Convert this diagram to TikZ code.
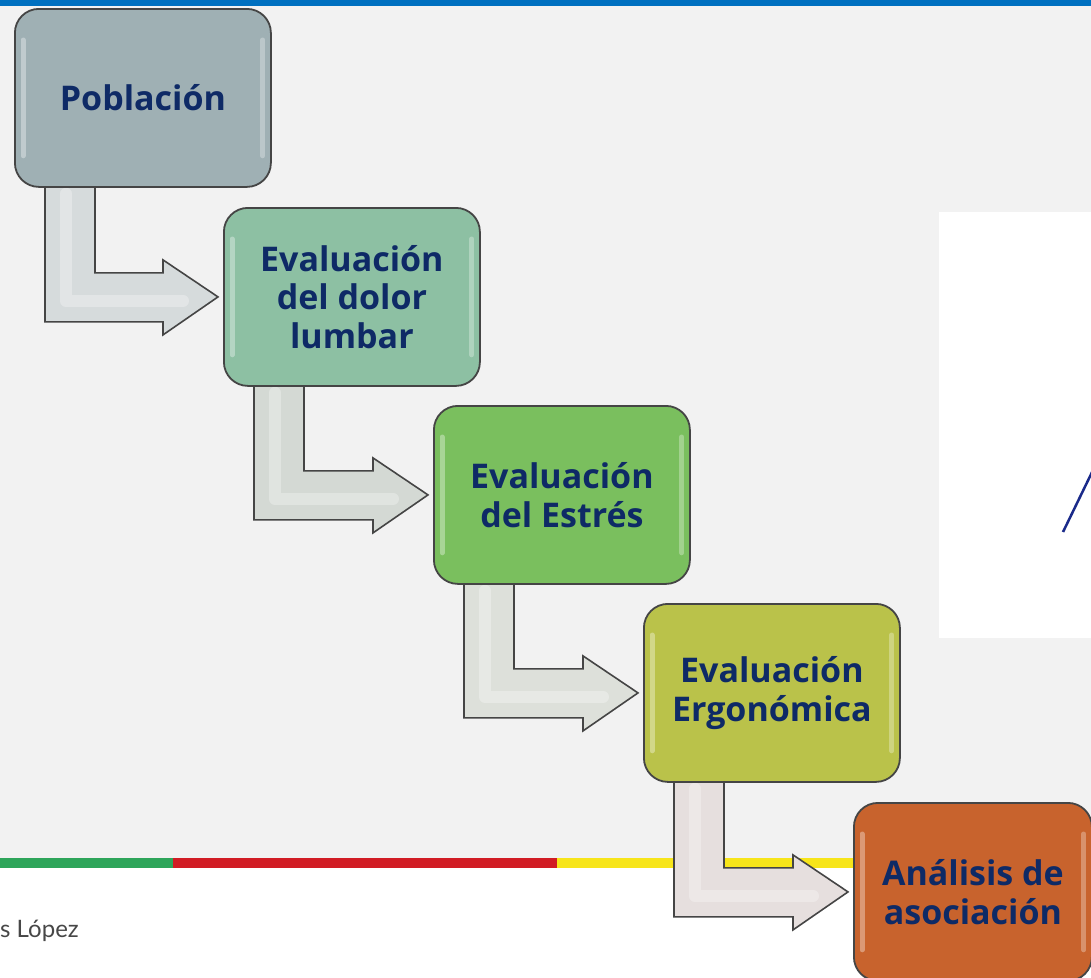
\documentclass[tikz,border=0pt]{standalone}
\usepackage{fontspec}
\setmainfont{Open Sans}
\newfontfamily\footfont{Lato}
\usetikzlibrary{calc}
\pgfdeclarelayer{bg}
\pgfdeclarelayer{mid}
\pgfsetlayers{bg,mid,main}
\definecolor{bgray}{HTML}{F2F2F2}
\definecolor{topblue}{HTML}{0070C0}
\definecolor{sgreen}{HTML}{2EA55A}
\definecolor{sred}{HTML}{D11C24}
\definecolor{syellow}{HTML}{F7E51A}
\definecolor{navy}{HTML}{0E2A66}
\definecolor{cone}{HTML}{9FB0B4}
\definecolor{ctwo}{HTML}{8DC0A3}
\definecolor{cthree}{HTML}{7ABF5E}
\definecolor{cfour}{HTML}{BAC24A}
\definecolor{cfive}{HTML}{C8632D}
\definecolor{edgegray}{HTML}{454545}
\definecolor{lineblue}{HTML}{1A2A8A}
\tikzset{
  stepbox/.style={draw=edgegray, line width=1.8pt, rounded corners=24pt,
    minimum width=256pt, minimum height=178pt, align=center, text=navy,
    font=\bfseries\fontsize{34}{38.5}\selectfont, inner sep=0pt, anchor=north west},
  bentarrow/.style={draw=edgegray, line width=1.6pt, line join=miter},
  gloss/.style={white, opacity=.35, line width=5pt, line cap=round},
  glossarrow/.style={white, opacity=.3, line width=12pt, line cap=round, line join=round}
}
\begin{document}
\begin{tikzpicture}[x=1pt,y=-1pt]
\useasboundingbox (0,0) rectangle (1091,977);
% boxes
\node[stepbox, fill=cone]   (b1) at (14,8)    {Población};
\node[stepbox, fill=ctwo]   (b2) at (223,207) {Evaluación\\del dolor\\lumbar};
\node[stepbox, fill=cthree] (b3) at (433,405) {Evaluación\\del Estrés};
\node[stepbox, fill=cfour]  (b4) at (643,603) {Evaluación\\Ergonómica};
\node[stepbox, fill=cfive, minimum width=238pt] (b5) at (853,802) {Análisis de\\asociación};
\foreach \n in {b1,b2,b3,b4,b5}{
  \draw[gloss] ([xshift=9pt,yshift=-32pt]\n.north west) -- ([xshift=9pt,yshift=32pt]\n.south west);
  \draw[gloss, opacity=.3] ([xshift=-9pt,yshift=-32pt]\n.north east) -- ([xshift=-9pt,yshift=32pt]\n.south east);
}
% background
\begin{pgfonlayer}{bg}
\fill[white] (0,0) rectangle (1091,977);
\fill[bgray] (0,6) rectangle (1091,858);
\fill[topblue] (0,0) rectangle (1091,6);
\fill[sgreen] (0,858) rectangle (173,868);
\fill[sred] (173,858) rectangle (557,868);
\fill[syellow] (557,858) rectangle (1091,868);
\fill[white] (939,212) rectangle (1091,638);
\draw[lineblue, line width=2.5pt] (1063,532) -- (1095,466);
\end{pgfonlayer}
% footer text
\node[anchor=base west, inner sep=0pt, text=black!72, font=\footfont\fontsize{24}{28}\selectfont] (foot) at (0,937) {s López};
% bent arrows
\begin{pgfonlayer}{mid}
\foreach \a/\b/\c in {b1/b2/D6DBDC, b2/b3/D4D9D4, b3/b4/DDE0DA, b4/b5/E6DFDE}{
  \definecolor{arc}{HTML}{\c}
  \draw[bentarrow, fill=arc] let \p1=(\a.south west), \p2=(\b.west) in
    (\x1+31pt,\y1+8pt) -- (\x1+81pt,\y1+8pt) -- (\x1+81pt,\y2+24pt)
    -- (\x2-60pt,\y2+24pt) -- (\x2-60pt,\y2+37pt) -- (\x2-5pt,\y2)
    -- (\x2-60pt,\y2-38pt) -- (\x2-60pt,\y2-25pt) -- (\x1+31pt,\y2-25pt) -- cycle;
  \draw[glossarrow] let \p1=(\a.south west), \p2=(\b.west) in
    (\x1+52pt,\y1-6pt) -- (\x1+52pt,\y2-4pt) -- (\x2-40pt,\y2-4pt);
}
\end{pgfonlayer}
\end{tikzpicture}
\end{document}
